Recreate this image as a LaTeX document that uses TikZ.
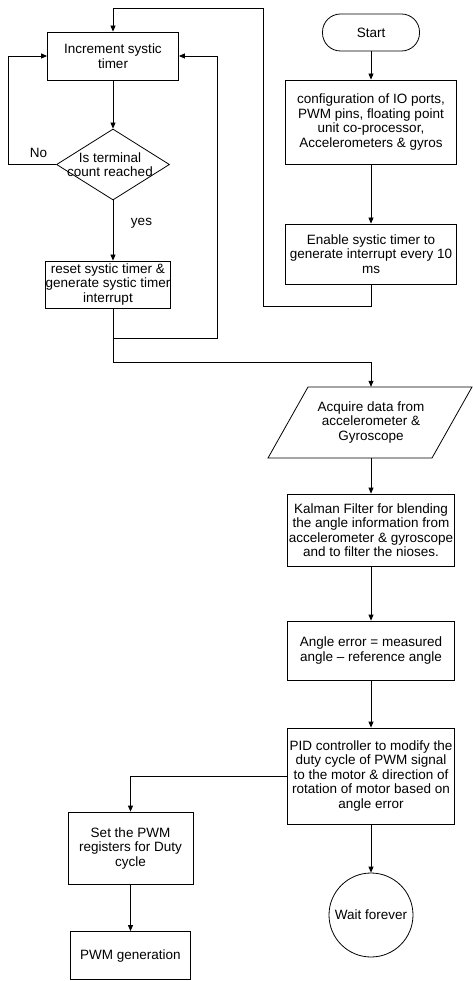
\documentclass[tikz,border=0pt]{standalone}
\usepackage{fontspec}
\setmainfont{Liberation Sans}
\usetikzlibrary{arrows.meta,shapes.geometric}
\begin{document}
\begin{tikzpicture}[x=1pt,y=-1pt,
  every node/.style={font=\fontsize{13.5}{14.5}\selectfont, align=center, inner sep=0pt},
  box/.style={draw, line width=0.8pt, rectangle},
  arr/.style={-{Triangle[length=6pt,width=5pt]}, line width=0.8pt},
  ln/.style={line width=0.8pt}]
\useasboundingbox (0,0) rectangle (473,981);
% nodes
\node[box, rounded corners=18pt, minimum width=97pt, minimum height=37pt] (start) at (371,32.5) {Start};
\node[box, minimum width=171pt, minimum height=84pt] (config) at (371,122) {configuration of IO ports,\\PWM pins, floating point\\unit co-processor,\\Accelerometers \& gyros};
\node[box, minimum width=171pt, minimum height=60pt] (enable) at (371,254) {Enable systic timer to\\generate interrupt every 10\\ms};
\node[box, minimum width=131pt, minimum height=48pt] (incr) at (113,56) {Increment systic\\timer};
\node[diamond, draw, line width=0.8pt, minimum width=113pt, minimum height=71pt] (dec) at (113,164.5) {};
\node (dectext) at (110,164.5) {Is terminal\\count reached};
\node[box, minimum width=124pt, minimum height=47pt] (reset) at (108,284.5) {reset systic timer \&\\generate systic timer\\interrupt};
\node[minimum width=164pt, minimum height=71pt] (acq) at (371,422.5) {Acquire data from\\accelerometer \&\\Gyroscope};
\draw[ln] (308,387) -- (472,387) -- (432,458) -- (268,458) -- cycle;
\node[box, minimum width=167pt, minimum height=72pt] (kalman) at (371,530) {Kalman Filter for blending\\the angle information from\\accelerometer \& gyroscope\\and to filter the nioses.};
\node[box, minimum width=167pt, minimum height=59pt] (angle) at (371,650.5) {Angle error = measured\\angle – reference angle};
\node[box, minimum width=167pt, minimum height=96pt] (pid) at (371,776) {PID controller to modify the\\duty cycle of PWM signal\\to the motor \& direction of\\rotation of motor based on\\angle error};
\node[circle, draw, line width=0.8pt, minimum size=84pt] (wait) at (371,915) {Wait forever};
\node[box, minimum width=125pt, minimum height=72pt] (set) at (130.5,848) {Set the PWM\\registers for Duty\\cycle};
\node[box, minimum width=120pt, minimum height=48pt] (pwm) at (130.5,955.5) {PWM generation};
\node (no) at (38.5,152.5) {No};
\node (yes) at (141.5,223) {yes};
% coordinates
\coordinate (e1) at (371,306);
\coordinate (e2) at (263,306);
\coordinate (e3) at (263,8);
\coordinate (e4) at (113,8);
\coordinate (n1) at (8,164.5);
\coordinate (n2) at (8,56);
\coordinate (j1) at (113,338);
\coordinate (r1) at (217,338);
\coordinate (r2) at (217,56);
\coordinate (j2) at (113,362);
% connectors
\draw[arr] (start) -- (config);
\draw[arr] (config) -- (enable);
\draw[arr] (enable.south) -- (e1) -- (e2) -- (e3) -- (e4) -- (incr.north);
\draw[arr] (incr) -- (dec);
\draw[arr] (dec.west) -- (n1) -- (n2) -- (incr.west);
\draw[arr] (dec.south) -- (dec.south |- reset.north);
\draw[arr] (j1 |- reset.south) -- (j1) -- (r1) -- (r2) -- (incr.east);
\draw[arr] (j1) -- (j2) -- (j2 -| acq.north) -- (acq.north);
\draw[arr] (acq) -- (kalman);
\draw[arr] (kalman) -- (angle);
\draw[arr] (angle) -- (pid);
\draw[arr] (pid.west) -- (pid.west -| set.north) -- (set.north);
\draw[arr] (pid) -- (wait);
\draw[arr] (set) -- (pwm);
\end{tikzpicture}
\end{document}
